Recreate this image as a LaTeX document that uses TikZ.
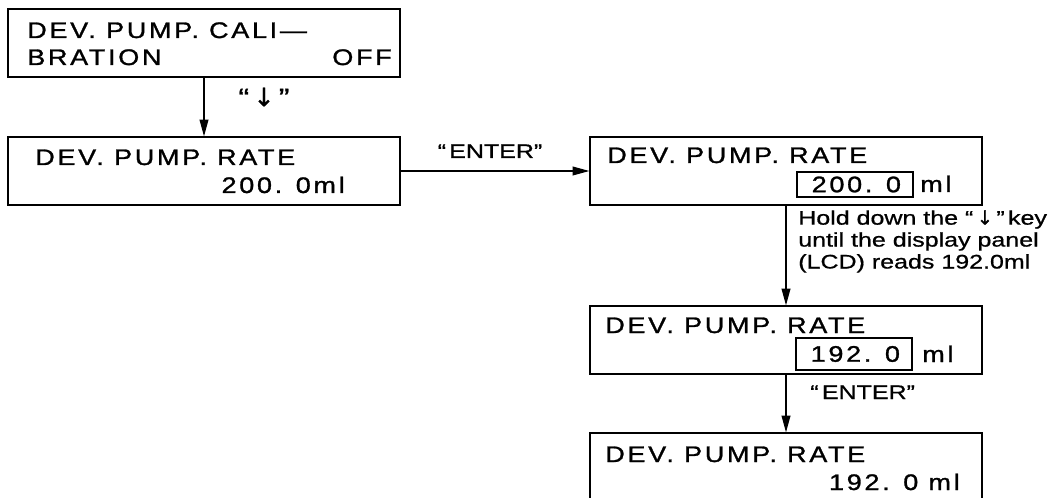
\documentclass[tikz,border=0pt]{standalone}
\usepackage{fontspec}
\usepackage{tikz}
\usetikzlibrary{arrows.meta,positioning}
\setmainfont{Liberation Sans}
\newfontfamily\lcdfont[FakeStretch=1.2,LetterSpace=12,FakeBold=1.2]{Liberation Sans}
\newfontfamily\notefont[FakeStretch=1.27,FakeBold=0.8]{Liberation Sans}
\newfontfamily\symfont[FakeBold=0.8]{DejaVu Sans}
\tikzset{
  lcdbox/.style={
    draw=black,
    line width=1.4pt,
    minimum width=9.78cm,
    minimum height=1.68cm,
    inner sep=0pt
  },
  lcdtext/.style={inner sep=0pt,font=\lcdfont\fontsize{16}{18}\selectfont},
  valbox/.style={
    draw=black,
    line width=1.3pt,
    minimum width=2.9cm,
    inner sep=0pt,
    font=\lcdfont\fontsize{16}{18}\selectfont
  },
  notetext/.style={inner sep=0pt,align=left,font=\notefont\fontsize{14}{15.6}\selectfont},
  keyflow/.style={-{Triangle[length=4.2mm,width=2.2mm]},line width=1pt,draw=black}
}
\begin{document}
\begin{tikzpicture}[x=0.025cm,y=-0.025cm]
  \useasboundingbox (0,0) rectangle (1052,498);
  % display panels
  \node[lcdbox] (calib) at (204,43) {};
  \node[lcdbox] (rate) at (204,171) {};
  \node[lcdbox] (edit) at (786,171) {};
  \node[lcdbox] (hold) at (786,340) {};
  \node[lcdbox] (done) at (786,467) {};
  % what the panels read
  \node[lcdtext,anchor=base west] (calibA) at (27,38) {DEV. PUMP. CALI—};
  \node[lcdtext,anchor=base west] (calibB) at (27,65) {BRATION};
  \node[lcdtext,anchor=base east] (calibC) at (392,65) {OFF};
  \node[lcdtext,anchor=base west] (rateA) at (35,165) {DEV. PUMP. RATE};
  \node[lcdtext,anchor=base east] (rateB) at (345,193) {200. 0ml};
  \node[lcdtext,anchor=base west] (editA) at (607,163) {DEV. PUMP. RATE};
  \node[valbox,minimum height=0.62cm] (editval) at (855,184.5) {\hspace{0.12em}200. 0};
  \node[lcdtext,anchor=base west] (editunit) at (920,192) {ml};
  \node[lcdtext,anchor=base west] (holdA) at (605,333) {DEV. PUMP. RATE};
  \node[valbox,minimum height=0.8cm] (holdval) at (854,354) {\hspace{0.12em}192. 0};
  \node[lcdtext,anchor=base west] (holdunit) at (922,362) {ml};
  \node[lcdtext,anchor=base west] (doneA) at (605,462) {DEV. PUMP. RATE};
  \node[lcdtext,anchor=base east] (doneB) at (960,490) {192. 0 ml};
  % key presses
  \draw[keyflow] (calib) -- (rate);
  \draw[keyflow] (rate) -- (edit);
  \draw[keyflow] (edit) -- (hold);
  \draw[keyflow] (hold) -- (done);
  \node[notetext] (downkey) at (264,97) {\fontsize{18}{18}\selectfont“\,{\symfont ↓}\,”};
  \node[notetext,anchor=base] (enterA) at (490,158) {“\,ENTER”};
  \node[notetext,anchor=north west] (holdnote) at (798,210) {Hold down the “\,{\symfont ↓}\,”\,key\\until the display panel\\(LCD) reads 192.0ml};
  \node[notetext,anchor=base west] (enterB) at (810,399) {“\,ENTER”};
\end{tikzpicture}
\end{document}
